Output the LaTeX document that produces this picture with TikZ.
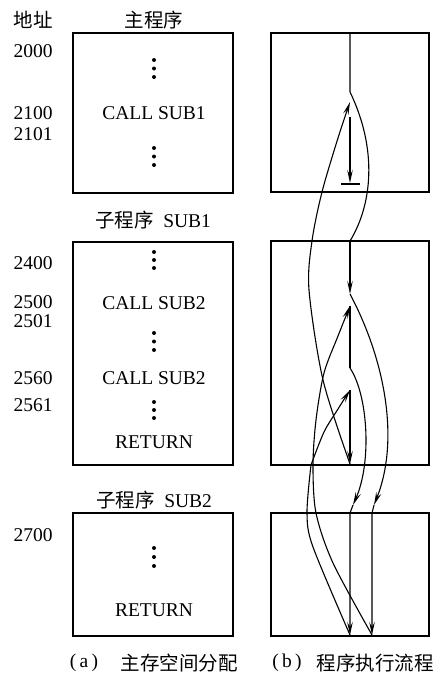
\documentclass[tikz,border=0pt]{standalone}
\usepackage{fontspec}
\setmainfont{Liberation Serif}
\newfontfamily\cjk{Noto Sans CJK SC}
\usetikzlibrary{arrows.meta}
\begin{document}
\begin{tikzpicture}[x=1pt,y=-1pt,
  box/.style={draw,line width=1.8pt},
  lbl/.style={inner sep=0pt,font=\fontsize{19.5}{22}\selectfont},
  flow/.style={line width=1.1pt,-{Stealth[length=13pt,width=5.5pt,inset=5pt]}},
  plain/.style={line width=1.1pt},
  dotc/.style={fill,circle,inner sep=0pt,minimum size=4pt}]
\useasboundingbox[fill=white] (0,0) rectangle (445,693);
% headers
\node[lbl] (hAddr) at (33,20) {\cjk 地址};
\node[lbl] (hMain) at (154,20) {\cjk 主程序};
\node[lbl] (hSub1) at (153,220) {{\cjk 子程序}\hspace{0.5em}SUB1};
\node[lbl] (hSub2) at (154,500) {{\cjk 子程序}\hspace{0.5em}SUB2};
% addresses
\node[lbl] (a2000) at (33,51) {2000};
\node[lbl] (a2100) at (33,113) {2100};
\node[lbl] (a2101) at (33,134) {2101};
\node[lbl] (a2400) at (33,263) {2400};
\node[lbl] (a2500) at (33,302) {2500};
\node[lbl] (a2501) at (33,321) {2501};
\node[lbl] (a2560) at (33,378) {2560};
\node[lbl] (a2561) at (33,405) {2561};
\node[lbl] (a2700) at (33,535) {2700};
% left boxes
\draw[box] (73,33) rectangle (233,193);
\draw[box] (73,242) rectangle (233,465);
\draw[box] (73,513) rectangle (233,636);
% right boxes
\draw[box] (271,33) rectangle (429,192);
\draw[box] (271,241) rectangle (429,465);
\draw[box] (271,513) rectangle (429,636);
% instructions
\node[lbl] (i1) at (154,113) {CALL SUB1};
\node[lbl] (i2) at (154,303) {CALL SUB2};
\node[lbl] (i3) at (154,378) {CALL SUB2};
\node[lbl] (i4) at (154,442) {RETURN};
\node[lbl] (i5) at (154,610) {RETURN};
% vertical dots
\foreach \y [count=\i] in {60,68.5,77,148,156.5,165,252,260,268,333,341.5,350,402,410,418,548,557,566}
  \node[dotc] (d\i) at (154,\y) {};
% captions
\node[lbl] (capA) at (84,663) {(\,a\,)};
\node[lbl] (capAt) at (179,663) {\cjk 主存空间分配};
\node[lbl] (capB) at (287,663) {(\,b\,)};
\node[lbl] (capBt) at (375,663) {\cjk 程序执行流程};
% flow coordinates
\coordinate (m0) at (350,33);
\coordinate (m1) at (350,92);
\coordinate (r0) at (350,102);
\coordinate (r0b) at (350,117);
\coordinate (e0) at (350,183);
\coordinate (bar1) at (341,184);
\coordinate (bar2) at (360,184);
\coordinate (s1a) at (350,241);
\coordinate (s1b) at (350,294);
\coordinate (r1) at (350,306);
\coordinate (s1c) at (350,368);
\coordinate (r2) at (350,390);
\coordinate (s1d) at (350,464);
\coordinate (c1) at (374,505);
\coordinate (c2) at (353,505);
\coordinate (s2r) at (372,513);
\coordinate (s2rb) at (372,635);
\coordinate (s2l) at (350,513);
\coordinate (s2lb) at (350,635);
\coordinate (k) at (311,465);
% main program
\draw[plain] (m0) -- (m1) .. controls (378,150) and (372,205) .. (s1a);
\draw[flow] (s1a) -- (s1b);
\draw[flow] (r0b) -- (e0);
\draw[plain] (bar1) -- (bar2);
% SUB1
\draw[flow] (s1b) .. controls (385,360) and (400,440) .. (c1);
\draw[flow] (c1) -- (s2r) -- (s2rb);
\draw[plain] (r1) -- (s1c);
\draw[flow] (s1c) .. controls (368,395) and (372,462) .. (c2);
\draw[flow] (c2) -- (s2l) -- (s2lb);
\draw[flow] (r2) -- (s1d);
% returns from SUB2
\draw[flow] plot[smooth] coordinates {(s2rb) (333,563) (316,513) (313,465) (316,420) (324,373) (338,336) (r1)};
\draw[plain] plot[smooth] coordinates {(s2lb) (313,547) (307,513) (k)};
\draw[flow] plot[smooth] coordinates {(k) (324,432) (338,409) (r2)};
% return from SUB1
\draw[flow] plot[smooth] coordinates {(s1d) (323,380) (309,290) (312,241) (322,192) (338,138) (r0)};
\end{tikzpicture}
\end{document}
